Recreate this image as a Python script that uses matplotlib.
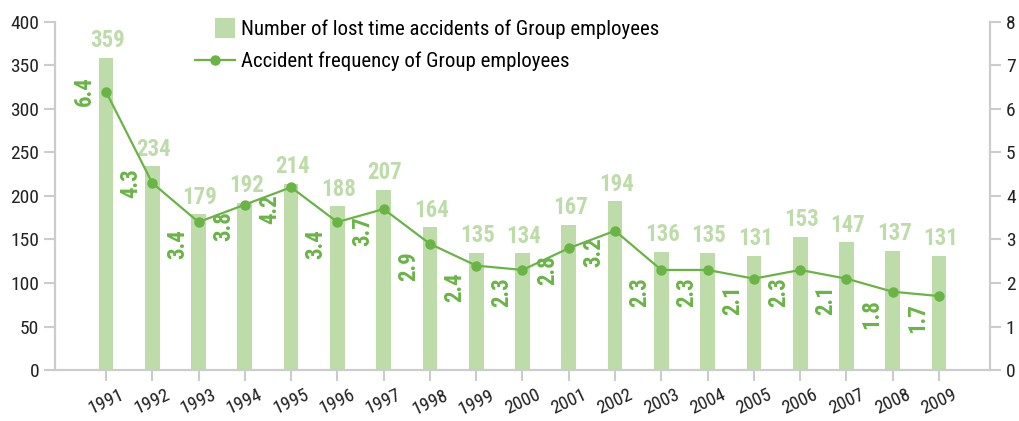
import matplotlib
matplotlib.use("Agg")
from matplotlib import pyplot as plt
from matplotlib.legend_handler import HandlerPatch
from matplotlib.patches import Rectangle
import numpy as np

# datos
anios = ["1991", "1992", "1993", "1994", "1995", "1996", "1997", "1998", "1999", "2000",
         "2001", "2002", "2003", "2004", "2005", "2006", "2007", "2008", "2009"]
accidentes = [359, 234, 179, 192, 214, 188, 207, 164, 135, 134,
              167, 194, 136, 135, 131, 153, 147, 137, 131]
frecuencia = [6.4, 4.3, 3.4, 3.8, 4.2, 3.4, 3.7, 2.9, 2.4, 2.3,
              2.8, 3.2, 2.3, 2.3, 2.1, 2.3, 2.1, 1.8, 1.7]

plt.rcParams["font.family"] = ["Roboto Condensed", "Roboto", "DejaVu Sans"]

color_barra = "#bedcaa"
color_linea = "#6ab446"
color_eje = "#cccccc"
color_texto = "#222222"


def cuadrado(legend, orig_handle, xdescent, ydescent, width, height, fontsize):
    # cuadrado pegado a la derecha del espacio del simbolo
    s = fontsize * 0.95
    return Rectangle((-xdescent + width - s, -ydescent + height / 2 - s / 2), s, s)


fig = plt.figure(figsize=(10.19, 4.21), dpi=100)
ax = fig.add_axes([0.054, 0.121, 0.9175, 0.827])
ax2 = ax.twinx()

x = np.arange(len(anios))
barras = ax.bar(x, accidentes, width=0.32, color=color_barra, zorder=2)
linea, = ax2.plot(x, frecuencia, color=color_linea, lw=1.6, marker="o", markersize=6.5,
                  zorder=3)

for xi, v in zip(x, accidentes):
    ax.annotate(str(v), (xi, v), xytext=(1, 4), textcoords="offset points",
                ha="center", va="bottom", fontsize=16.5, fontweight="bold", color=color_barra)

for i, (xi, v) in enumerate(zip(x, frecuencia)):
    # los dos primeros van centrados, el resto por debajo del punto
    if i < 2:
        va, dy = "center", 0
    else:
        va, dy = "top", -5
    ax2.annotate(str(v), (xi, v), xytext=(-7, dy), textcoords="offset points",
                 ha="right", va=va, rotation=90, fontsize=16.5,
                 fontweight="bold", color=color_linea)

ax.set_xlim(-1.1, 19.1)
ax.set_ylim(0, 400)
ax2.set_ylim(0, 8)
ax.set_yticks(range(0, 401, 50))
ax2.set_yticks(range(0, 9))
ax.set_xticks(x)
ax.set_xticklabels(anios, rotation=25, ha="center", color=color_texto)

for a in (ax, ax2):
    a.spines["top"].set_visible(False)
    for s in ("left", "right", "bottom"):
        a.spines[s].set_color(color_eje)
        a.spines[s].set_linewidth(1.5)
    a.tick_params(colors=color_eje, labelcolor=color_texto, labelsize=14, length=8, width=1.5)
ax.tick_params(axis="x", labelsize=13.5, length=8)

parche = barras.patches[0]
ax.legend([parche, linea],
          ["Number of lost time accidents of Group employees",
           "Accident frequency of Group employees"],
          loc="upper left", bbox_to_anchor=(0.13, 1.06), frameon=False,
          fontsize=15, handlelength=1.9, labelspacing=0.6, handletextpad=0.3,
          handler_map={parche: HandlerPatch(patch_func=cuadrado)})

fig.savefig("out.png", dpi=100)
